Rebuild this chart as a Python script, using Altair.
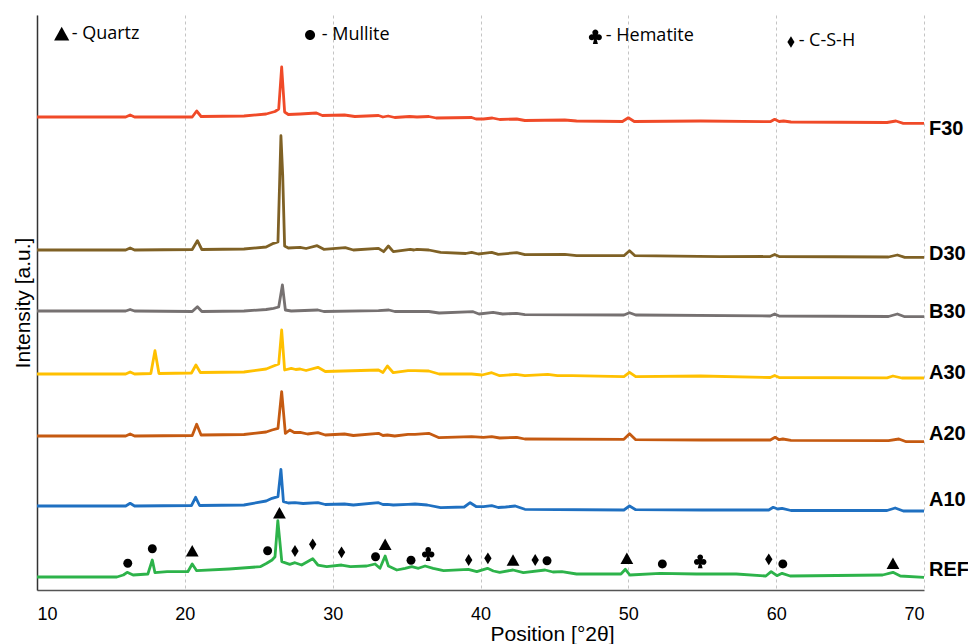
import altair as alt
import pandas as pd

# ---- samples, colours, stacking offsets (a.u.) ----
SAMPLES = ["F30", "D30", "B30", "A30", "A20", "A10", "REF"]
COLORS = ["#F04A28", "#7F6125", "#767171", "#FFC000", "#C55A11", "#1F70C1", "#2DB34A"]
OFFSETS = [473, 340, 279, 216, 154, 84, 13]
LABEL_LEVELS = [461, 336, 278, 217, 156, 90, 20]

# ---- diffraction patterns: 2theta [deg] and intensity above each baseline [a.u.] ----
F30_2THETA = [10.0, 16.0, 16.3, 16.6, 20.5, 20.8, 21.1, 24.0, 25.5, 26.1, 26.35, 26.55, 26.75, 27.0,
              27.8, 28.9, 29.3, 30.8, 31.5, 33.1, 33.4, 33.75, 34.2, 35.2, 35.7, 36.5, 37.0, 39.4,
              39.7, 40.2, 40.8, 41.3, 42.45, 43.0, 45.7, 46.5, 49.6, 50.0, 50.4, 54.9, 59.6, 59.9,
              60.2, 60.5, 61.0, 67.5, 68.1, 68.6, 70.0]
F30_COUNTS = [0, 0, 2, 0, 0, 6, 0.5, 1, 3, 5.5, 8, 50, 5, 2.5,
              3, 4, 1.5, 2, 0.5, 1.5, 0, 1, -0.5, 0.5, 0, 0.5, -1, -0.5,
              -2, -2, -1, -2.5, -2, -3.5, -3, -4, -4.5, -0.8, -4.5, -4, -4.7, -2.3,
              -4.5, -4, -5, -5.5, -4, -6.3, -6.3]

D30_2THETA = [10.0, 16.0, 16.3, 16.6, 20.5, 20.85, 21.15, 24.0, 25.5, 26.0, 26.3, 26.5, 26.62, 26.75,
              27.0, 27.8, 28.2, 28.95, 29.4, 30.85, 31.4, 33.1, 33.45, 33.77, 34.1, 35.25, 35.5, 35.7,
              36.5, 37.3, 39.0, 39.4, 39.86, 40.2, 40.76, 41.2, 42.45, 43.0, 45.7, 46.5, 49.7, 50.08,
              50.45, 56.2, 59.6, 59.9, 60.2, 67.6, 68.2, 68.7, 70.0]
D30_COUNTS = [0, 0, 2, 0, 0.5, 9.3, 0.5, 1, 3, 6.7, 8, 114.3, 75, 4,
              2, 2.7, 1.5, 4.3, 0.7, 2.3, 0, 1.7, -1.7, 4, -1.7, 0.7, 0, 0.7,
              0, -2.3, -3.5, -2.3, -4, -3.3, -2.3, -4.3, -2.7, -4.7, -4.3, -5.7, -5.7, -0.7,
              -5.7, -6.7, -6.5, -4.5, -6.5, -7, -5, -7.3, -7.3]

B30_2THETA = [10.0, 16.0, 16.3, 16.6, 20.5, 20.85, 21.15, 24.0, 25.5, 26.0, 26.35, 26.6, 26.8, 27.2,
              29.0, 29.4, 33.1, 33.8, 34.2, 35.1, 36.5, 37.2, 39.5, 39.9, 40.85, 41.5, 42.45, 43.0,
              49.7, 50.08, 50.5, 59.6, 59.9, 60.2, 67.6, 68.2, 68.7, 70.0]
B30_COUNTS = [0, 0, 1.5, 0, -0.5, 4.3, -0.5, 0, 1.5, 2.7, 4, 26, 1, 0,
              1, -0.5, 0.3, 1, -0.5, -0.5, -0.5, -2, -0.7, -3, -1.3, -3, -2.3, -3.7,
              -4, -1.7, -4, -5, -3, -5, -5.5, -3, -5.7, -5.7]

A30_2THETA = [10.0, 16.0, 16.3, 16.6, 17.7, 17.98, 18.25, 20.45, 20.75, 21.05, 24.0, 25.5, 26.0, 26.35,
              26.55, 26.75, 27.2, 27.5, 27.8, 28.2, 29.0, 29.5, 33.1, 33.4, 33.7, 34.1, 35.1, 35.57,
              36.5, 37.2, 39.4, 40.1, 40.76, 41.3, 42.4, 43.0, 44.55, 45.2, 46.2, 49.7, 50.08, 50.5,
              54.9, 59.6, 59.9, 60.2, 67.5, 67.9, 68.5, 70.0]
A30_COUNTS = [0, 0, 2, 0, 0.5, 23.3, 0.5, 1, 9, 1.5, 2, 5, 8, 10,
              44, 4, 5.7, 4.5, 5, 3.5, 6.7, 2.5, 4, 1.5, 8, 1.3, 3.3, 3.3,
              3, 0, 0, -1, 1.3, -1.7, -0.3, -1.7, -0.3, -1.7, -1.7, -2.7, 1.7, -2.7,
              -2, -3.5, -1.5, -3.5, -3.8, -2, -4, -4]

A20_2THETA = [10.0, 16.0, 16.3, 16.6, 20.5, 20.8, 21.1, 24.0, 25.5, 25.9, 26.3, 26.55, 26.8, 27.1,
              27.4, 27.8, 28.3, 29.0, 29.5, 30.8, 31.4, 33.1, 33.4, 33.7, 34.2, 35.1, 35.57, 36.5,
              37.2, 39.4, 40.2, 40.76, 41.3, 42.45, 43.0, 49.7, 50.08, 50.5, 55.0, 59.6, 59.93, 60.2,
              60.45, 61.0, 67.6, 68.3, 68.8, 70.0]
A20_COUNTS = [0, 0, 2, 0, 0.5, 11.7, 1, 1.5, 4, 6, 7.7, 44.3, 2.7, 6,
              3.5, 3.7, 2, 3.3, 1, 2, 0.5, 2.7, 0.5, 1, 0, 1.7, 1.7, 2.7,
              -1.7, -0.7, -1.3, -0.7, -2, -1.3, -3, -3.3, 2.3, -3.7, -4, -4, -1.3, -3.7,
              -3, -4.3, -4.7, -3, -5.7, -5.7]

A10_2THETA = [10.0, 16.0, 16.3, 16.6, 20.45, 20.73, 21.0, 24.0, 25.5, 25.9, 26.3, 26.5, 26.67, 27.0,
              27.45, 28.0, 29.0, 29.5, 30.8, 31.4, 33.1, 33.4, 33.7, 34.1, 35.1, 35.57, 36.4, 37.3,
              38.9, 39.3, 39.7, 40.2, 40.76, 41.2, 41.7, 42.35, 43.0, 49.7, 50.08, 50.5, 55.0, 59.5,
              59.8, 60.1, 60.4, 61.0, 67.5, 68.05, 68.6, 70.0]
A10_COUNTS = [0, 0, 2.7, 0, 0.5, 8.7, 0.5, 1, 5, 7.7, 9.3, 36.7, 4.3, 3,
              3.3, 2.5, 3.3, 1.5, 2, 1, 3.3, 1.5, 1.7, 1, 1.7, 2, 1, -1.7,
              -1, 3.3, -0.5, -0.7, 0.3, -1.5, -1, 0, -3.3, -4, 0, -3.7, -4, -4,
              -1.3, -3, -2.3, -4.5, -4.5, -2, -5, -5]

REF_2THETA = [10.0, 15.4, 15.84, 16.1, 16.5, 17.5, 17.8, 17.98, 18.8, 20.2, 20.5, 20.8, 23.0, 25.1,
              25.54, 25.9, 26.1, 26.29, 26.56, 27.1, 27.45, 27.9, 28.65, 29.0, 29.6, 30.6, 31.2, 32.3,
              32.87, 33.2, 33.55, 33.77, 34.34, 34.9, 35.35, 35.8, 36.25, 36.8, 37.5, 39.18, 39.75, 40.47,
              40.87, 41.3, 42.2, 42.9, 44.37, 44.9, 45.5, 46.5, 49.5, 49.8, 50.1, 52.15, 54.6, 57.3,
              59.3, 59.66, 60.05, 60.4, 60.95, 67.2, 67.9, 68.4, 70.0]
REF_COUNTS = [0, 0, 2, 4.7, 2, 3, 17, 4.3, 5.3, 5.3, 13, 6.3, 8, 10.3,
              13.7, 17, 20.3, 56.3, 15.3, 12.7, 14.3, 12, 18.3, 12, 10.3, 12, 10.3, 11,
              13, 8.7, 21, 11, 7, 8.7, 10.3, 8.7, 11, 8.7, 6.3, 7.7, 5.3, 8.7,
              6, 4.7, 7, 4.3, 7, 5, 5.3, 3, 3, 7.7, 2, 3.7, 3, 3,
              1, 5.3, 1.3, 3.7, 1, 2, 4.7, 1, -0.3]

PATTERNS = {
    "F30": (F30_2THETA, F30_COUNTS),
    "D30": (D30_2THETA, D30_COUNTS),
    "B30": (B30_2THETA, B30_COUNTS),
    "A30": (A30_2THETA, A30_COUNTS),
    "A20": (A20_2THETA, A20_COUNTS),
    "A10": (A10_2THETA, A10_COUNTS),
    "REF": (REF_2THETA, REF_COUNTS),
}

# ---- phase identification on the REF pattern ----
PHASES = ["Quartz", "Mullite", "Hematite", "C-S-H"]
PEAK_2THETA = [16.14, 17.8, 20.5, 25.6, 26.4, 27.45, 28.65, 30.6, 32.9, 33.55, 35.3, 36.3,
               39.2, 40.5, 42.2, 43.7, 44.5, 49.9, 52.3, 54.7, 59.5, 60.45, 67.9]
PEAK_LEVEL = [26.7, 41.3, 39.3, 39.3, 77.3, 39, 45.7, 37.7, 33.3, 45.7, 29.7, 36.7,
              30, 31.7, 30, 30, 29.3, 31.7, 26, 29.3, 30.7, 26, 26.7]
PEAK_PHASE = ["Mullite", "Mullite", "Quartz", "Mullite", "Quartz", "C-S-H", "C-S-H", "C-S-H",
              "Mullite", "Quartz", "Mullite", "Hematite", "C-S-H", "C-S-H", "Quartz", "C-S-H",
              "Mullite", "Quartz", "Mullite", "Hematite", "C-S-H", "Mullite", "Quartz"]

# key along the top of the plot
KEY_SYMBOL_2THETA = [11.67, 28.47, 47.6, 61.0]
KEY_SYMBOL_LEVEL = [556.3, 555, 554, 548]
KEY_TEXT_2THETA = [12.35, 29.26, 48.48, 61.52]
KEY_TEXT_LEVEL = [556.0, 555.5, 554, 549]
KEY_TEXT = ["- Quartz", "- Mullite", "- Hematite", "- C-S-H"]

# phase glyphs as unit-square SVG paths
TRIANGLE = "M0,-0.72L0.8,0.72L-0.8,0.72Z"
DOT = "M0.56,0A0.56,0.56,0,1,0,-0.56,0A0.56,0.56,0,1,0,0.56,0Z"
CLUB = ("M-0.06,-0.42A0.36,0.36,0,1,0,0.66,-0.42A0.36,0.36,0,1,0,-0.06,-0.42Z"
        "M-0.48,0.15A0.36,0.36,0,1,0,0.24,0.15A0.36,0.36,0,1,0,-0.48,0.15Z"
        "M0.36,0.15A0.36,0.36,0,1,0,1.08,0.15A0.36,0.36,0,1,0,0.36,0.15Z"
        "M0.3,-0.42L-0.12,0.15L0.72,0.15Z"
        "M0.22,0.1L0.0,0.95L0.6,0.95L0.38,0.1Z")
DIAMOND = "M0,-0.74L0.46,0L0,0.74L-0.46,0Z"
SHAPES = [TRIANGLE, DOT, CLUB, DIAMOND]

# ---- tables ----
rows = []
for sample, offset in zip(SAMPLES, OFFSETS):
    xs, ys = PATTERNS[sample]
    for i, (x, y) in enumerate(zip(xs, ys, strict=True)):
        rows.append({"sample": sample, "idx": i, "two_theta": x, "intensity": y + offset})
patterns = pd.DataFrame(rows)

peaks = pd.DataFrame({"two_theta": PEAK_2THETA, "intensity": PEAK_LEVEL, "phase": PEAK_PHASE})
key_symbols = pd.DataFrame({"two_theta": KEY_SYMBOL_2THETA, "intensity": KEY_SYMBOL_LEVEL,
                            "phase": PHASES})
key_text = pd.DataFrame({"two_theta": KEY_TEXT_2THETA, "intensity": KEY_TEXT_LEVEL,
                         "label": KEY_TEXT})
sample_labels = pd.DataFrame({"two_theta": [70.0] * len(SAMPLES), "intensity": LABEL_LEVELS,
                              "sample": SAMPLES})

x_scale = alt.Scale(domain=[10, 70], nice=False, zero=False)
y_scale = alt.Scale(domain=[0, 575], nice=False, zero=False)
shape_scale = alt.Scale(domain=PHASES, range=SHAPES)

x_axis = alt.Axis(
    values=[10, 20, 30, 40, 50, 60, 70], format="d",
    grid=True, gridDash=[3, 3], gridColor="#c4c4c4", gridWidth=1,
    domainColor="#555555", domainWidth=1.5, ticks=False, tickSize=0,
    labelFont="Liberation Sans", labelFontSize=18, labelColor="#000000", labelPadding=15,
    title="Position [°2θ]", titleFont="Liberation Sans", titleFontSize=21,
    titleFontWeight="normal", titleColor="#000000",
    titleX=515, titleY=50, titleBaseline="alphabetic", titleAlign="center",
)
y_axis = alt.Axis(
    grid=False, ticks=False, labels=False, tickSize=0,
    domainColor="#333333", domainWidth=1.5,
    title="Intensity [a.u.]", titleFont="Liberation Sans", titleFontSize=21,
    titleFontWeight="normal", titleColor="#000000", titlePadding=4,
)

lines = alt.Chart(patterns).mark_line(strokeWidth=2.8, strokeJoin="round").encode(
    x=alt.X("two_theta:Q", scale=x_scale, axis=x_axis),
    y=alt.Y("intensity:Q", scale=y_scale, axis=y_axis),
    color=alt.Color("sample:N", scale=alt.Scale(domain=SAMPLES, range=COLORS), legend=None),
    detail="sample:N",
    order="idx:Q",
)

peak_marks = alt.Chart(peaks).mark_point(filled=True, color="#000000", opacity=1,
                                         strokeWidth=0).encode(
    x="two_theta:Q",
    y="intensity:Q",
    shape=alt.Shape("phase:N", scale=shape_scale, legend=None),
    size=alt.value(256),
)

key_marks = alt.Chart(key_symbols).mark_point(filled=True, color="#000000", opacity=1,
                                              strokeWidth=0).encode(
    x="two_theta:Q",
    y="intensity:Q",
    shape=alt.Shape("phase:N", scale=shape_scale, legend=None),
    size=alt.Size("phase:N", scale=alt.Scale(domain=PHASES, range=[361, 240, 256, 256]),
                  legend=None),
)

key_labels = alt.Chart(key_text).mark_text(
    align="left", baseline="middle", font="Open Sans", fontSize=18, color="#000000"
).encode(x="two_theta:Q", y="intensity:Q", text="label:N")

end_labels = alt.Chart(sample_labels).mark_text(
    align="left", baseline="middle", dx=5, font="Liberation Sans", fontSize=20,
    fontWeight="bold", color="#000000"
).encode(x="two_theta:Q", y="intensity:Q", text="sample:N")

chart = alt.layer(lines, peak_marks, key_marks, key_labels, end_labels).properties(
    width=887, height=575,
    autosize=alt.AutoSizeParams(type="none"),
    padding={"left": 37, "top": 15, "right": 44, "bottom": 54},
    background="#ffffff",
).configure_view(stroke=None)

chart.save("out.html", embed_options={"renderer": "svg", "actions": False})
